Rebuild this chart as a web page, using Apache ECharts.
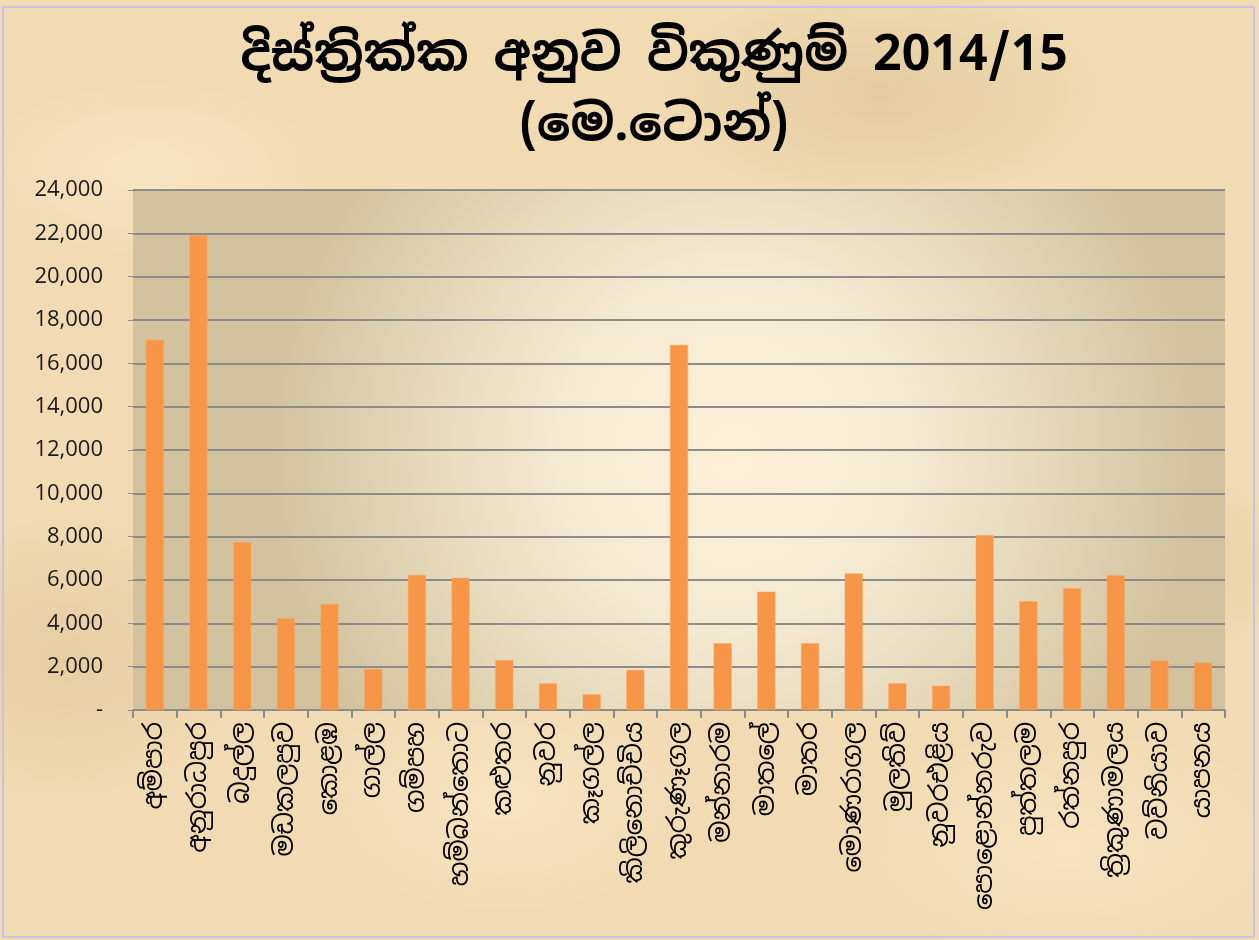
<!DOCTYPE html>
<html>
<head>
<meta charset="utf-8">
<script src="https://cdn.jsdelivr.net/npm/echarts@6/dist/echarts.min.js"></script>
<style>
html, body { margin: 0; padding: 0; width: 1259px; height: 940px; overflow: hidden; }
body {
  background-color: #f0dbb2;
  background-image:
    radial-gradient(ellipse 180px 90px at 12% 18%, rgba(255,240,210,0.5), transparent),
    radial-gradient(ellipse 220px 110px at 70% 10%, rgba(205,175,125,0.35), transparent),
    radial-gradient(ellipse 200px 120px at 40% 85%, rgba(255,240,210,0.45), transparent),
    radial-gradient(ellipse 160px 100px at 90% 60%, rgba(205,175,125,0.35), transparent),
    radial-gradient(ellipse 180px 140px at 5% 70%, rgba(210,180,130,0.35), transparent),
    radial-gradient(ellipse 240px 120px at 85% 90%, rgba(255,238,205,0.45), transparent),
    radial-gradient(ellipse 120px 60px at 30% 40%, rgba(205,175,125,0.3), transparent);
}
#frame { position: absolute; left: 2px; top: 6px; width: 1253px; height: 932px; border: 2px solid #c9c3e6; box-sizing: border-box; }
#main { position: absolute; left: 0; top: 0; width: 1259px; height: 940px; }
</style>
</head>
<body>
<div id="frame"></div>
<div id="main"></div>
<script>
const titleText = 'දිස්ත්‍රික්ක අනුව විකුණුම් 2014/15\n(මෙ.ටොන්)';
const districts = ['අම්පාර','අනුරාධපුර','බදුල්ල','මඩකලපුව','කොළඹ','ගාල්ල','ගම්පහ','හම්බන්තොට','කළුතර','නුවර','කෑගල්ල','කිලිනොච්චිය','කුරුණෑගල','මන්නාරම','මාතලේ','මාතර','මොණරාගල','මුලතිව්','නුවරඑළිය','පොළොන්නරුව','පුත්තලම','රත්නපුර','ත්‍රිකුණාමලය','වව්නියාව','යාපනය'];
const sales = [17080, 21920, 7740, 4230, 4890, 1890, 6230, 6100, 2300, 1230, 720, 1850, 16850, 3080, 5460, 3080, 6300, 1230, 1120, 8070, 5020, 5620, 6220, 2280, 2190];
const yMin = 0, yMax = 24000, yStep = 2000;

const sinhalaFont = '"Noto Sans Sinhala","Iskoola Pota","Noto Sans","DejaVu Sans",sans-serif';
const chart = echarts.init(document.getElementById('main'), null, { renderer: 'canvas' });
chart.setOption({
  backgroundColor: 'transparent',
  animation: false,
  title: {
    text: titleText,
    left: 649,
    textAlign: 'center',
    top: 16,
    textStyle: { fontFamily: sinhalaFont, fontSize: 50, fontWeight: 'bold', color: '#000', lineHeight: 70 }
  },
  grid: {
    left: 133, right: 34, top: 190, bottom: 230,
    show: true,
    borderWidth: 0,
    backgroundColor: new echarts.graphic.RadialGradient(0.55, 0.5, 0.9, [
      { offset: 0, color: '#fcefd6' },
      { offset: 0.35, color: '#f5ebd4' },
      { offset: 0.65, color: '#e6dabb' },
      { offset: 1, color: '#d2c29d' }
    ])
  },
  xAxis: {
    type: 'category',
    data: districts,
    axisLine: { show: true, lineStyle: { color: '#8c8c8c', width: 2 } },
    axisTick: { show: true, alignWithLabel: false, length: 8, lineStyle: { color: '#8c8c8c', width: 2 } },
    axisLabel: { interval: 0, rotate: 90, margin: 12, fontFamily: sinhalaFont, fontSize: 26, color: '#000' }
  },
  yAxis: {
    type: 'value',
    min: yMin, max: yMax, interval: yStep,
    axisLine: { show: false },
    axisTick: { show: true, length: 5, lineStyle: { color: '#8c8c8c', width: 1 } },
    splitLine: { show: true, lineStyle: { color: '#8c8c8c', width: 2 } },
    axisLabel: {
      margin: 30,
      fontFamily: '"Open Sans","Noto Sans",sans-serif',
      fontSize: 22,
      color: '#1a1a1a',
      formatter: v => v === 0 ? '-' : v.toLocaleString('en-US')
    }
  },
  series: [{
    type: 'bar',
    data: sales,
    barWidth: 18,
    itemStyle: { color: '#f79646', borderColor: '#f9a866', borderWidth: 0.5 }
  }]
});
</script>
</body>
</html>
